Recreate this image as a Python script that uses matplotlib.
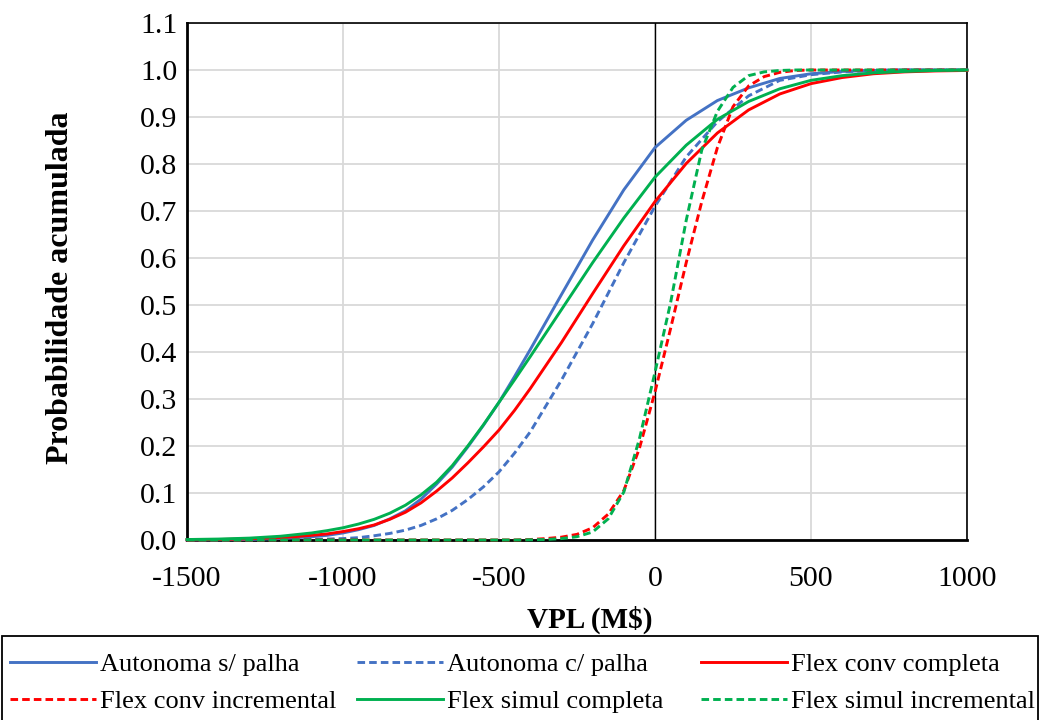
import matplotlib
matplotlib.use("Agg")
import matplotlib.pyplot as plt
from matplotlib.patches import Rectangle

plt.rcParams['font.family'] = ['Liberation Serif', 'DejaVu Serif']

# NPV grid (M$) for the broad distributions
vpl_wide = [-1500, -1400, -1300, -1200, -1100, -1050, -1000, -950, -900, -850,
            -800, -750, -700, -650, -600, -550, -500, -450, -400, -300,
            -200, -100, 0, 100, 200, 300, 400, 500, 600, 700,
            800, 900, 1000]

autonoma_sem_palha = [0.0002, 0.0005, 0.001, 0.003, 0.007, 0.010, 0.015, 0.022, 0.031, 0.045,
                      0.062, 0.087, 0.119, 0.155, 0.198, 0.244, 0.293, 0.348, 0.405, 0.522,
                      0.638, 0.745, 0.835, 0.893, 0.935, 0.962, 0.982, 0.992, 0.997, 0.999,
                      1.0, 1.0, 1.0]

autonoma_com_palha = [0.0, 0.0, 0.0003, 0.0007, 0.0015, 0.002, 0.003, 0.005, 0.009, 0.014,
                      0.021, 0.031, 0.045, 0.063, 0.086, 0.113, 0.145, 0.185, 0.230, 0.340,
                      0.460, 0.590, 0.710, 0.815, 0.890, 0.945, 0.978, 0.990, 0.996, 0.999,
                      1.0, 1.0, 1.0]

flex_conv_completa = [0.0004, 0.001, 0.0024, 0.005, 0.010, 0.013, 0.018, 0.024, 0.032, 0.044,
                      0.059, 0.079, 0.104, 0.132, 0.164, 0.198, 0.234, 0.276, 0.322, 0.420,
                      0.524, 0.626, 0.720, 0.801, 0.866, 0.915, 0.949, 0.971, 0.984, 0.992,
                      0.996, 0.998, 0.999]

flex_simul_completa = [0.001, 0.002, 0.004, 0.008, 0.015, 0.020, 0.026, 0.034, 0.044, 0.057,
                       0.074, 0.096, 0.123, 0.158, 0.200, 0.245, 0.293, 0.341, 0.390, 0.490,
                       0.590, 0.685, 0.772, 0.840, 0.895, 0.933, 0.960, 0.978, 0.988, 0.994,
                       0.997, 0.999, 1.0]

# Finer NPV grid for the incremental (steeper) distributions
vpl_fine = [-1500, -500, -450, -400, -350, -300, -250, -200, -150, -100, -50,
            0, 50, 100, 150, 200, 250, 300, 350, 400, 450, 500, 1000]

flex_conv_incremental = [0.0, 0.0, 0.0, 0.001, 0.003, 0.006, 0.012, 0.026, 0.055, 0.105, 0.195,
                         0.315, 0.450, 0.590, 0.720, 0.835, 0.922, 0.966, 0.986, 0.995, 0.999, 1.0, 1.0]

flex_simul_incremental = [0.0, 0.0, 0.0, 0.0005, 0.001, 0.003, 0.007, 0.017, 0.045, 0.102, 0.215,
                          0.357, 0.505, 0.680, 0.830, 0.912, 0.963, 0.988, 0.996, 0.999, 1.0, 1.0, 1.0]

series_labels = ["Autonoma s/ palha", "Autonoma c/ palha", "Flex conv completa",
                 "Flex conv incremental", "Flex simul completa", "Flex simul incremental"]

x_ticks = [-1500, -1000, -500, 0, 500, 1000]
y_ticks = [0.0, 0.1, 0.2, 0.3, 0.4, 0.5, 0.6, 0.7, 0.8, 0.9, 1.0, 1.1]

BLUE = "#4472C4"
RED = "#FF0000"
GREEN = "#00B050"
LW = 2.1
DASH = (0, (2.6, 1.4))

W, H = 1041, 720
fig = plt.figure(figsize=(W / 100, H / 100), dpi=100)
ax = fig.add_axes([187 / W, 1 - 540 / H, (967 - 187) / W, (540 - 23) / H])

ax.set_xlim(-1500, 1000)
ax.set_ylim(0, 1.1)
ax.set_xticks(x_ticks)
ax.set_yticks(y_ticks)
ax.set_xticklabels([str(v) for v in x_ticks])
ax.set_yticklabels([f"{v:.1f}" for v in y_ticks])
ax.tick_params(length=0, labelsize=21.5)
ax.tick_params(axis="x", pad=19)
ax.tick_params(axis="y", pad=7)
ax.grid(True, color="#D9D9D9", linewidth=1.3)
ax.set_axisbelow(True)

for side in ("top", "right"):
    ax.spines[side].set_linewidth(1.2)
for side in ("left", "bottom"):
    ax.spines[side].set_linewidth(2.0)
for sp in ax.spines.values():
    sp.set_color("black")

ax.axvline(0, color="black", linewidth=1.0, zorder=2)

specs = [
    (vpl_wide, autonoma_sem_palha, BLUE, "-"),
    (vpl_wide, autonoma_com_palha, BLUE, DASH),
    (vpl_wide, flex_conv_completa, RED, "-"),
    (vpl_fine, flex_conv_incremental, RED, DASH),
    (vpl_wide, flex_simul_completa, GREEN, "-"),
    (vpl_fine, flex_simul_incremental, GREEN, DASH),
]

handles = []
for (xs, ys, color, ls), label in zip(specs, series_labels):
    line, = ax.plot(xs, ys, color=color, linestyle=ls, linewidth=LW,
                    label=label, zorder=3, clip_on=False)
    handles.append(line)

# Axis titles
fig.text(590 / W, 1 - 620 / H, "VPL (M$)", fontsize=21, fontweight="bold",
         ha="center", va="center")
fig.text(61 / W, 1 - 288 / H, "Probabilidade acumulada", fontsize=23,
         fontweight="bold", rotation=90, ha="center", va="center")

# Legend frame spanning the bottom of the figure
fig.add_artist(Rectangle((2 / W, -0.01), 1036 / W, (720 - 636) / H + 0.01,
                         transform=fig.transFigure, facecolor="white",
                         edgecolor="black", linewidth=1.3))

# One frameless legend per column so entries read row by row
column_x = [10, 357, 701]
for col, x0 in enumerate(column_x):
    idx = [col, col + 3]
    fig.legend([handles[i] for i in idx], [series_labels[i] for i in idx],
               loc="upper left", bbox_to_anchor=(x0 / W, 1 - 653 / H),
               frameon=False, fontsize=19, handlelength=3.25,
               handletextpad=0.15, labelspacing=0.5, borderpad=0,
               borderaxespad=0)

fig.savefig("out.png", dpi=100)
